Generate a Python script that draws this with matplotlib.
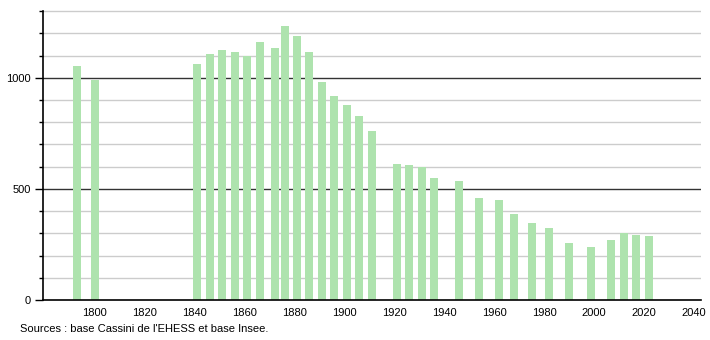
import matplotlib
matplotlib.use("Agg")
import matplotlib.pyplot as plt
from matplotlib.ticker import MultipleLocator, FixedLocator

plt.rcParams['font.family'] = ['Liberation Sans', 'DejaVu Sans']

years = [1793, 1800, 1841, 1846, 1851, 1856, 1861, 1866, 1872, 1876, 1881, 1886,
         1891, 1896, 1901, 1906, 1911, 1921, 1926, 1931, 1936, 1946, 1954, 1962,
         1968, 1975, 1982, 1990, 1999, 2007, 2012, 2017, 2022]
population = [1051, 988, 1064, 1105, 1123, 1118, 1099, 1163, 1135, 1235, 1190, 1114,
              983, 920, 876, 828, 762, 611, 606, 600, 551, 534, 457, 452,
              386, 346, 326, 256, 238, 269, 301, 292, 286]
x_ticks = list(range(1800, 2041, 20))
y_major = [0, 500, 1000]
source_text = "Sources : base Cassini de l'EHESS et base Insee."

fig = plt.figure(figsize=(7.1, 3.4), dpi=100)
ax = fig.add_axes([0.0606, 0.1176, 0.9263, 0.853])

# gridlines
for v in range(100, 1301, 100):
    if v % 500 == 0:
        ax.axhline(v, color='#333333', lw=1.0, zorder=1)
    else:
        ax.axhline(v, color='#cccccc', lw=1.0, zorder=1)

ax.bar(years, population, width=3.2, color='#aee3ae', zorder=2)

ax.set_xlim(1779.2, 2042.8)
ax.set_ylim(0, 1305)

ax.xaxis.set_major_locator(FixedLocator(x_ticks))
ax.yaxis.set_major_locator(FixedLocator(y_major))
ax.yaxis.set_minor_locator(MultipleLocator(100))

ax.tick_params(axis='x', length=0, labelsize=8, pad=6, colors='black')
ax.tick_params(axis='y', which='major', length=6, width=1, labelsize=8, pad=3, colors='black')
ax.tick_params(axis='y', which='minor', length=3, width=1, colors='black')

for s in ['top', 'right']:
    ax.spines[s].set_visible(False)
ax.spines['left'].set_color('black')
ax.spines['bottom'].set_color('black')
ax.spines['left'].set_linewidth(1.2)
ax.spines['bottom'].set_linewidth(1.2)
ax.spines['left'].set_bounds(0, 1300)

fig.text(20 / 710, 1 - 329 / 340, source_text, fontsize=8, va='center', ha='left')

fig.savefig("out.png", dpi=100)
